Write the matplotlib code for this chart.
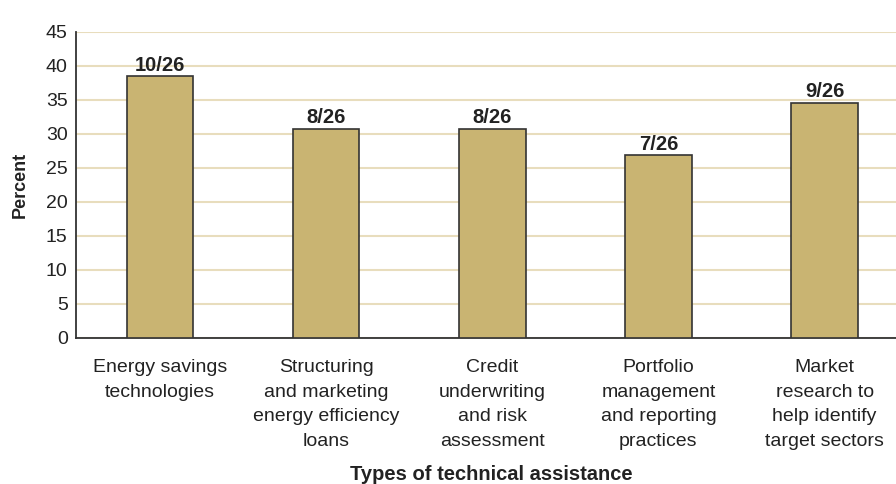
import matplotlib
matplotlib.use("Agg")
import matplotlib.pyplot as plt
import numpy as np

plt.rcParams["font.family"] = ["Liberation Sans", "DejaVu Sans"]

categories = [
    "Energy savings\ntechnologies",
    "Structuring\nand marketing\nenergy efficiency\nloans",
    "Credit\nunderwriting\nand risk\nassessment",
    "Portfolio\nmanagement\nand reporting\npractices",
    "Market\nresearch to\nhelp identify\ntarget sectors",
]
counts = [10, 8, 8, 7, 9]
total = 26
percents = [c / total * 100 for c in counts]
bar_labels = [f"{c}/{total}" for c in counts]
yticks = list(range(0, 50, 5))

bar_color = "#c9b472"
edge_color = "#333333"
grid_color = "#e8ddbd"
text_color = "#222222"

fig = plt.figure(figsize=(8.96, 4.84), dpi=100, facecolor="white")
ax = fig.add_axes([0.0848, 0.3017, 0.9152, 0.6322])

x = np.arange(len(categories))
bars = ax.bar(x, percents, width=0.4, color=bar_color, edgecolor=edge_color,
              linewidth=1.2, zorder=3)
for b, lbl in zip(bars, bar_labels):
    ax.text(b.get_x() + b.get_width() / 2, b.get_height() + 0.2, lbl,
            ha="center", va="bottom", fontsize=14.5, fontweight="bold",
            color=text_color, zorder=4)

ax.set_xlim(-0.506, 4.43)
ax.set_ylim(0, 45)
ax.set_yticks(yticks)
ax.set_yticklabels([str(t) for t in yticks], fontsize=14, color=text_color)
ax.set_xticks(x)
ax.set_xticklabels(categories, fontsize=14, color=text_color, linespacing=1.6)
ax.tick_params(axis="both", length=0)
ax.tick_params(axis="x", pad=15)
ax.tick_params(axis="y", pad=6)

ax.yaxis.grid(True, color=grid_color, linewidth=1.5, zorder=0)
ax.set_axisbelow(True)
for side in ("top", "right"):
    ax.spines[side].set_visible(False)
for side in ("left", "bottom"):
    ax.spines[side].set_color(edge_color)
    ax.spines[side].set_linewidth(1.3)

ax.set_ylabel("Percent", fontsize=13, fontweight="bold", color=text_color,
              labelpad=12)
fig.text(0.548, 0.02, "Types of technical assistance", ha="center", va="center",
         fontsize=14.5, fontweight="bold", color=text_color)

fig.savefig("out.png", dpi=100, facecolor="white")
